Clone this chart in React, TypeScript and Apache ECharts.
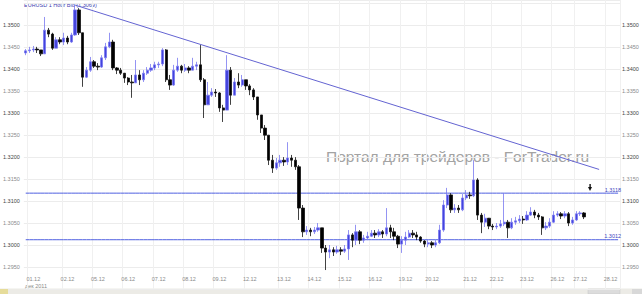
import { useEffect, useRef } from "react";
import * as echarts from "echarts";

// 3-hour candles, EUR/USD, December 2011
const firstOpen = 1.3437;
const closes = [
  1.3442, 1.3444, 1.3446, 1.3444, 1.3435, 1.3489, 1.3480, 1.3448, 1.3467, 1.3462,
  1.3471, 1.3462, 1.3478, 1.3535, 1.3483, 1.3382, 1.3398, 1.3417, 1.3407, 1.3405,
  1.3426, 1.3451, 1.3462, 1.3403, 1.3398, 1.3391, 1.3380, 1.3371, 1.3369, 1.3387,
  1.3376, 1.3391, 1.3398, 1.3403, 1.3410, 1.3412, 1.3444, 1.3376, 1.3364, 1.3398,
  1.3407, 1.3398, 1.3403, 1.3398, 1.3407, 1.3410, 1.3376, 1.3319, 1.3341, 1.3348,
  1.3346, 1.3312, 1.3307, 1.3398, 1.3341, 1.3371, 1.3364, 1.3376, 1.3362, 1.3353,
  1.3337, 1.3296, 1.3266, 1.3250, 1.3193, 1.3175, 1.3187, 1.3193, 1.3189, 1.3198,
  1.3193, 1.3178, 1.3084, 1.3030, 1.3034, 1.3030, 1.3034, 1.3039, 1.2993, 1.2984,
  1.2989, 1.2984, 1.2989, 1.2986, 1.2991, 1.3023, 1.3011, 1.3030, 1.3011, 1.3016,
  1.3020, 1.3027, 1.3023, 1.3030, 1.3025, 1.3039, 1.3030, 1.3020, 1.3002, 1.3011,
  1.3018, 1.3027, 1.3023, 1.3018, 1.3009, 1.3002, 1.3005, 1.3000, 1.3005, 1.3034,
  1.3091, 1.3114, 1.3080, 1.3084, 1.3080, 1.3107, 1.3114, 1.3112, 1.3148, 1.3068,
  1.3052, 1.3061, 1.3043, 1.3041, 1.3043, 1.3048, 1.3052, 1.3039, 1.3052, 1.3055,
  1.3059, 1.3057, 1.3068, 1.3075, 1.3068, 1.3064, 1.3039, 1.3043, 1.3052, 1.3068,
  1.3071, 1.3066, 1.3071, 1.3050, 1.3057, 1.3071, 1.3073, 1.3064,
];
const highs = [
  1.3446, 1.3451, 1.3453, 1.3451, 1.3444, 1.3519, 1.3494, 1.3483, 1.3473, 1.3473,
  1.3483, 1.3476, 1.3483, 1.3546, 1.3539, 1.3483, 1.3405, 1.3428, 1.3421, 1.3414,
  1.3432, 1.3460, 1.3483, 1.3467, 1.3405, 1.3403, 1.3387, 1.3382, 1.3387, 1.3421,
  1.3398, 1.3398, 1.3405, 1.3412, 1.3417, 1.3417, 1.3448, 1.3446, 1.3387, 1.3410,
  1.3426, 1.3410, 1.3412, 1.3407, 1.3426, 1.3417, 1.3455, 1.3380, 1.3371, 1.3357,
  1.3355, 1.3348, 1.3319, 1.3432, 1.3405, 1.3380, 1.3391, 1.3387, 1.3376, 1.3366,
  1.3357, 1.3337, 1.3296, 1.3273, 1.3250, 1.3205, 1.3198, 1.3205, 1.3200, 1.3234,
  1.3205, 1.3200, 1.3182, 1.3091, 1.3043, 1.3039, 1.3041, 1.3050, 1.3039, 1.3000,
  1.3000, 1.2995, 1.2998, 1.2995, 1.3000, 1.3034, 1.3027, 1.3046, 1.3034, 1.3023,
  1.3030, 1.3034, 1.3034, 1.3036, 1.3034, 1.3084, 1.3046, 1.3039, 1.3023, 1.3020,
  1.3030, 1.3034, 1.3034, 1.3030, 1.3020, 1.3011, 1.3011, 1.3009, 1.3011, 1.3046,
  1.3102, 1.3130, 1.3118, 1.3093, 1.3091, 1.3116, 1.3125, 1.3121, 1.3193, 1.3152,
  1.3073, 1.3071, 1.3052, 1.3048, 1.3050, 1.3057, 1.3118, 1.3057, 1.3061, 1.3064,
  1.3068, 1.3066, 1.3077, 1.3086, 1.3080, 1.3073, 1.3066, 1.3052, 1.3061, 1.3077,
  1.3077, 1.3075, 1.3077, 1.3075, 1.3064, 1.3077, 1.3077, 1.3075,
];
const lows = [
  1.3432, 1.3437, 1.3439, 1.3437, 1.3430, 1.3435, 1.3473, 1.3444, 1.3448, 1.3457,
  1.3455, 1.3457, 1.3460, 1.3476, 1.3478, 1.3360, 1.3380, 1.3394, 1.3403, 1.3398,
  1.3403, 1.3421, 1.3448, 1.3398, 1.3389, 1.3387, 1.3369, 1.3364, 1.3335, 1.3369,
  1.3364, 1.3371, 1.3387, 1.3394, 1.3398, 1.3403, 1.3407, 1.3371, 1.3353, 1.3362,
  1.3394, 1.3391, 1.3394, 1.3391, 1.3398, 1.3398, 1.3371, 1.3289, 1.3319, 1.3337,
  1.3337, 1.3303, 1.3280, 1.3307, 1.3319, 1.3341, 1.3357, 1.3360, 1.3353, 1.3341,
  1.3330, 1.3285, 1.3255, 1.3239, 1.3182, 1.3164, 1.3171, 1.3178, 1.3180, 1.3182,
  1.3178, 1.3171, 1.3057, 1.3018, 1.3023, 1.3020, 1.3025, 1.3030, 1.2982, 1.2943,
  1.2970, 1.2975, 1.2980, 1.2977, 1.2982, 1.2966, 1.2995, 1.3000, 1.3002, 1.3005,
  1.3011, 1.3018, 1.3016, 1.3018, 1.3016, 1.3020, 1.3016, 1.3011, 1.2993, 1.2982,
  1.3000, 1.3016, 1.3016, 1.3011, 1.3005, 1.2995, 1.2995, 1.2993, 1.2995, 1.3002,
  1.3030, 1.3084, 1.3073, 1.3073, 1.3073, 1.3077, 1.3102, 1.3105, 1.3109, 1.3057,
  1.3027, 1.3041, 1.3036, 1.3034, 1.3036, 1.3039, 1.3043, 1.3016, 1.3036, 1.3046,
  1.3050, 1.3048, 1.3055, 1.3066, 1.3061, 1.3057, 1.3023, 1.3034, 1.3039, 1.3050,
  1.3064, 1.3059, 1.3061, 1.3043, 1.3046, 1.3055, 1.3066, 1.3059,
];

const slotCount = 157;
const dayLabels = [
  "01.12", "02.12", "05.12", "06.12", "07.12", "08.12", "09.12", "12.12", "13.12", "14.12",
  "15.12", "16.12", "19.12", "20.12", "21.12", "22.12", "23.12", "26.12", "27.12", "28.12",
];
const dayLabelSlots = [2, 11, 19, 27, 35, 43, 51, 59, 68, 76, 84, 92, 100, 107, 117, 124, 132, 140, 146, 154];
const levels = [1.3118, 1.3012];
const trendFrom = { slot: 13, price: 1.3546 };
const trendTo = { slot: 151, price: 1.3172 };
const priceMin = 1.29;
const priceMax = 1.35576;
const priceStep = 0.005;
const titleText = "EURUSD 1 Hour Bid (1.3069)";
const watermark = "Портал для трейдеров - ForTrader.ru";

const FONT = "'Liberation Sans', Arial, sans-serif";
const LINE_BLUE = "#4f5fe0";

export default function App() {
  const ref = useRef<HTMLDivElement>(null);
  useEffect(() => {
    if (!ref.current) return;
    const chart = echarts.init(ref.current, null, { renderer: "svg" });
    const categories = Array.from({ length: slotCount }, (_, i) => String(i));
    const candles = closes.map((c, i) => [i === 0 ? firstOpen : closes[i - 1], c, lows[i], highs[i]]);
    const labelMap = new Map<number, string>();
    dayLabelSlots.forEach((s, k) => labelMap.set(s, dayLabels[k]));
    const gridSet = new Set(dayLabelSlots.map((s) => s - 1));
    const yLabel = (v: number) => (v < 1.29499 || v > 1.35001 ? "" : v.toFixed(4));
    const yColor = (v: any) => {
      const n = Math.round(Number(v) * 10000);
      return n % 100 === 0 ? "#444" : "#8a8a8a";
    };
    const yAxisBase = {
      type: "value",
      min: priceMin,
      max: priceMax,
      interval: priceStep,
      axisLine: { show: false },
      axisTick: { show: false },
      splitLine: { show: true, lineStyle: { color: "#ececec", width: 1 } },
      axisLabel: { formatter: yLabel, fontSize: 5.5, fontFamily: FONT, color: yColor, showMaxLabel: false, showMinLabel: false },
    };
    const levelSeries = levels.map((v) => ({
      type: "line",
      data: categories.map(() => v),
      showSymbol: false,
      symbol: "none",
      silent: true,
      z: 3,
      lineStyle: { color: LINE_BLUE, width: 1, type: "solid" },
      endLabel: {
        show: true,
        formatter: v.toFixed(4),
        color: "#3b46c0",
        fontSize: 5.5,
        fontFamily: FONT,
        align: "right",
        distance: 0,
        offset: [3, -3.5],
      },
    }));
    chart.setOption({
      animation: false,
      backgroundColor: "#ffffff",
      grid: { left: 22, right: 22, top: 0, bottom: 5.06, containLabel: false },
      xAxis: {
        type: "category",
        data: categories,
        boundaryGap: true,
        offset: -16,
        axisLine: { show: false },
        axisTick: { show: false },
        axisLabel: {
          interval: (i: number) => labelMap.has(i),
          formatter: (_v: string, i: number) => labelMap.get(i) || "",
          fontSize: 5.5,
          fontFamily: FONT,
          color: "#8a8a8a",
          margin: 3,
        },
        splitLine: {
          show: true,
          interval: (i: number) => gridSet.has(i),
          lineStyle: { color: "#f0f0f0", width: 1 },
        },
      },
      yAxis: [
        { ...yAxisBase, position: "left", axisLabel: { ...yAxisBase.axisLabel, margin: 4 } },
        { ...yAxisBase, position: "right", splitLine: { show: false }, axisLabel: { ...yAxisBase.axisLabel, margin: 2 } },
      ],
      series: [
        ...levelSeries,
        {
          type: "candlestick",
          data: candles,
          barWidth: 2.8,
          z: 4,
          itemStyle: {
            color: "#4444dd",
            color0: "#000000",
            borderColor: "#7878f0",
            borderColor0: "#111111",
            borderWidth: 0.8,
          },
          markLine: {
            silent: true,
            symbol: ["none", "none"],
            animation: false,
            lineStyle: { color: "#6464d2", width: 1, type: "solid" },
            label: { show: false },
            data: [
              [
                { coord: [trendFrom.slot, trendFrom.price] },
                { coord: [trendTo.slot, trendTo.price] },
              ],
            ],
          },
        },
      ],
      graphic: [
        {
          type: "text",
          left: 24,
          top: 2,
          style: { text: titleText, fontSize: 5.5, fontFamily: FONT, fill: "#4040b0" },
        },
        {
          type: "text",
          left: 326,
          top: 148,
          style: { text: watermark, fontSize: 15.5, fontFamily: FONT, fill: "#a3a3a3" },
        },
        {
          type: "text",
          left: 25,
          top: 283,
          style: { text: "дек 2011", fontSize: 5.5, fontFamily: FONT, fill: "#8a8a8a" },
        },
        {
          type: "polygon",
          shape: { points: [[588, 187], [592, 187], [590, 191]] },
          style: { fill: "#111" },
        },
        {
          type: "rect",
          shape: { x: 589.4, y: 184, width: 1.4, height: 3.5 },
          style: { fill: "#111" },
        },
        {
          type: "rect",
          shape: { x: 0, y: 288.5, width: 642, height: 6 },
          style: { fill: "#ecebe6" },
        },
        {
          type: "rect",
          shape: { x: 588, y: 289, width: 32, height: 5 },
          style: { fill: "#dcdcdc", stroke: "#c4c4c4", lineWidth: 0.5 },
        },
        {
          type: "rect",
          shape: { x: 0, y: 289, width: 8, height: 5 },
          style: { fill: "#e6dc9a" },
        },
        {
          type: "rect",
          shape: { x: 632, y: 289, width: 10, height: 5 },
          style: { fill: "#d8d8d8" },
        },
      ],
    });
    return () => chart.dispose();
  }, []);
  return <div ref={ref} style={{ position: "fixed", left: 0, top: 0, width: 642, height: 294 }} />;
}
